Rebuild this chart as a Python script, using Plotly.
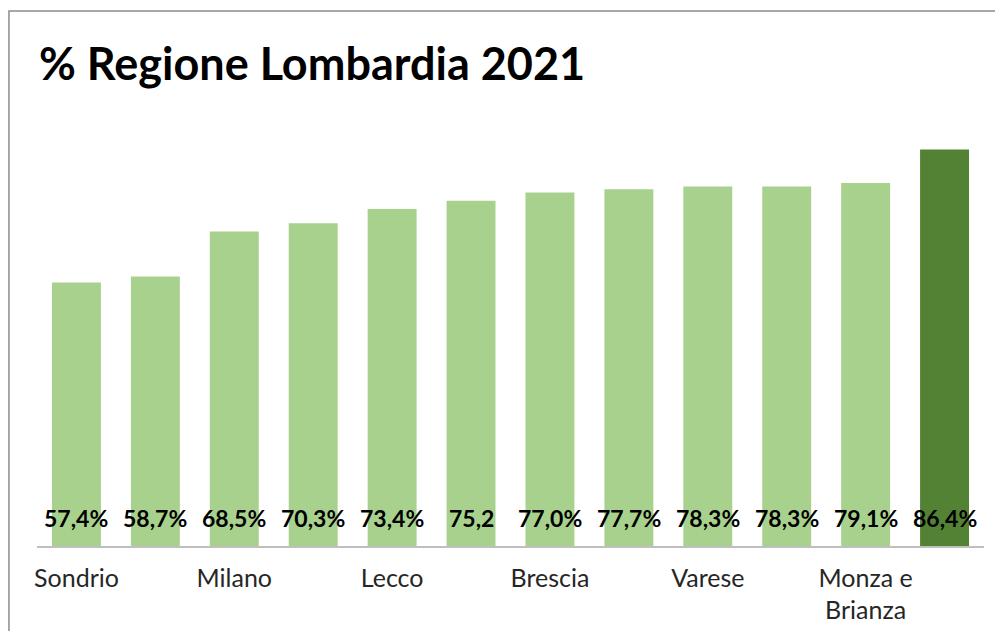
import plotly.graph_objects as go

categories = ["Sondrio", "Cremona", "Milano", "Mantova", "Lecco", "Pavia",
              "Brescia", "Lodi", "Varese", "Como", "Monza e Brianza", "Bergamo"]
values = [57.4, 58.7, 68.5, 70.3, 73.4, 75.2, 77.0, 77.7, 78.3, 78.3, 79.1, 86.4]
value_labels = ["57,4%", "58,7%", "68,5%", "70,3%", "73,4%", "75,2", "77,0%",
                "77,7%", "78,3%", "78,3%", "79,1%", "86,4%"]
tick_cats = ["Sondrio", "Milano", "Lecco", "Brescia", "Varese", "Monza e Brianza"]
tick_texts = ["Sondrio", "Milano", "Lecco", "Brescia", "Varese", "Monza e<br>Brianza"]
highlight = "Bergamo"

colors = ["#548235" if c == highlight else "#A9D18E" for c in categories]

fig = go.Figure()
fig.add_trace(go.Bar(x=categories, y=values, marker=dict(color=colors, line=dict(width=0)),
                     hoverinfo="x+y"))

for c, lab in zip(categories, value_labels):
    fig.add_annotation(x=c, y=0, yanchor="bottom", yshift=12, text="<b>%s</b>" % lab,
                       showarrow=False, font=dict(family="Lato", size=23, color="#000000"))

fig.add_shape(type="rect", xref="paper", yref="paper", x0=-0.0296, x1=1.05,
              y0=-0.25, y1=1.1656, line=dict(color="#8c8c8c", width=1.5),
              fillcolor="rgba(0,0,0,0)", layer="above")

W, H = 995, 623
fig.update_layout(
    width=W, height=H,
    margin=dict(l=29, r=19, t=79, b=85, autoexpand=False),
    paper_bgcolor="white", plot_bgcolor="white",
    bargap=0.38,
    showlegend=False,
    title=dict(text="<b>% Regione Lombardia 2021</b>", xref="container", yref="container",
               x=31/W, xanchor="left", y=1-56/H, yanchor="middle",
               font=dict(family="Lato", size=45, color="#000000")),
    xaxis=dict(type="category", tickmode="array", tickvals=tick_cats, ticktext=tick_texts,
               showline=True, linecolor="#bfbfbf", linewidth=1.5, ticks="",
               ticklabelstandoff=9, tickangle=0, automargin=False,
               tickfont=dict(family="Lato", size=25, color="#262626"), showgrid=False),
    yaxis=dict(range=[0, 100], visible=False, showgrid=False, zeroline=False,
               automargin=False),
)

fig.write_html("out.html")
